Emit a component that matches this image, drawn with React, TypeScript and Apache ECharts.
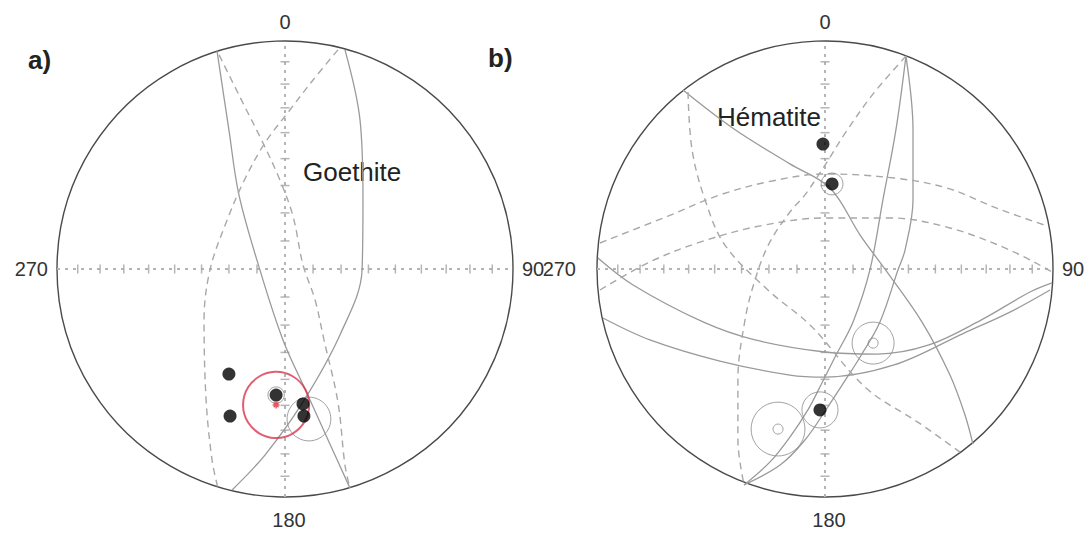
import React, { useEffect, useRef } from "react";
import * as echarts from "echarts";

// ---------- layout constants ----------
const R_PX = 228;
const CENTERS = [
  [285, 269],
  [825, 269],
];

// ---------- axis / tick data ----------
const ANGLE_LABELS = [0, 90, 180, 270];
const TICKS = [0.123, 0.246, 0.366, 0.484, 0.598, 0.707, 0.811, 0.909];

// ---------- a) Goethite (unit-circle coords: x = east, y = north) ----------
const goeSolidA = [
  [-0.298, 0.956], [-0.246, 0.61], [-0.202, 0.325], [-0.11, -0.004],
  [-0.009, -0.311], [0.096, -0.544], [0.189, -0.75], [0.285, -0.961],
];
const goeSolidB = [
  [-0.232, -0.969], [-0.088, -0.816], [0.079, -0.583], [0.241, -0.289],
  [0.338, -0.004], [0.342, 0.303], [0.329, 0.654], [0.263, 0.961],
];
const goeDashC = [
  [-0.289, 0.939], [-0.18, 0.719], [-0.105, 0.57], [-0.026, 0.399],
  [0.035, 0.232], [0.079, 0.018], [0.132, -0.136], [0.171, -0.311],
  [0.232, -0.583], [0.263, -0.86], [0.285, -0.961],
];
const goeDashD = [
  [0.232, 0.961], [0.123, 0.829], [0.018, 0.693], [-0.088, 0.553],
  [-0.18, 0.386], [-0.259, 0.202], [-0.329, -0.004], [-0.355, -0.224],
  [-0.346, -0.575], [-0.32, -0.838], [-0.294, -0.961],
];
const goeDots = [
  [-0.246, -0.461], [-0.241, -0.645], [-0.039, -0.553], [0.079, -0.592], [0.083, -0.645],
];
// [x, y, radius]
const goeGrayCircles = [
  [-0.039, -0.553, 0.036],
  [0.105, -0.658, 0.096],
];
const goeMean = [[-0.039, -0.596, 0.145]];

// ---------- b) Hématite ----------
const hemSolidE = [
  [0.355, 0.934], [0.386, 0.61], [0.386, 0.303], [0.351, 0.083], [0.32, -0.004],
  [0.241, -0.232], [0.154, -0.386], [0.075, -0.509], [0.004, -0.618],
  [-0.088, -0.75], [-0.197, -0.86], [-0.355, -0.947],
];
const hemSolidF = [
  [0.355, 0.934], [0.311, 0.61], [0.254, 0.303], [0.197, -0.004], [0.123, -0.232],
  [0.044, -0.386], [-0.018, -0.509], [-0.075, -0.618], [-0.154, -0.737],
  [-0.241, -0.846], [-0.355, -0.947],
];
const hemSolidG = [
  [-0.623, 0.785], [-0.399, 0.614], [-0.154, 0.461], [0.022, 0.355], [0.154, 0.149],
  [0.272, -0.013], [0.425, -0.232], [0.548, -0.465], [0.614, -0.64], [0.649, -0.768],
];
const hemSolidH1 = [
  [-0.996, 0.048], [-0.842, -0.07], [-0.535, -0.232], [-0.307, -0.311], [0, -0.364],
  [0.228, -0.373], [0.456, -0.333], [0.684, -0.224], [0.899, -0.101], [0.996, -0.061],
];
const hemSolidH2 = [
  [-0.974, -0.215], [-0.768, -0.311], [-0.461, -0.404], [-0.154, -0.465], [0, -0.474],
  [0.303, -0.421], [0.61, -0.281], [0.811, -0.189], [0.987, -0.092],
];
const hemDash1 = [
  [0.355, 0.934], [0.211, 0.768], [0.092, 0.601], [0, 0.456], [-0.088, 0.325],
  [-0.154, 0.25], [-0.246, 0.11], [-0.307, -0.048], [-0.351, -0.224],
  [-0.382, -0.487], [-0.382, -0.75], [-0.355, -0.947],
];
const hemDash2 = [
  [-0.987, 0.114], [-0.689, 0.232], [-0.461, 0.325], [-0.232, 0.386], [0, 0.417],
  [0.303, 0.399], [0.535, 0.355], [0.763, 0.263], [0.974, 0.189],
];
const hemDash3 = [
  [-0.987, -0.092], [-0.768, 0.031], [-0.548, 0.118], [-0.285, 0.189], [0, 0.224],
  [0.285, 0.224], [0.548, 0.18], [0.811, 0.083], [0.996, -0.013],
];
const hemDash4 = [
  [-0.601, 0.776], [-0.583, 0.522], [-0.526, 0.303], [-0.439, 0.105], [-0.246, -0.096],
  [-0.061, -0.25], [0.18, -0.522], [0.412, -0.675], [0.592, -0.803],
];
const hemDots = [[-0.009, 0.548], [0.031, 0.373], [-0.022, -0.618]];
const hemGrayCircles = [
  [0.031, 0.373, 0.048],
  [-0.022, -0.618, 0.079],
  [0.211, -0.325, 0.022],
  [0.211, -0.325, 0.092],
  [-0.206, -0.702, 0.022],
  [-0.206, -0.702, 0.118],
];

// ---------- styles ----------
const SOLID = "#9a9a9a";
const DASH = "#a8a8a8";
const FONT = "'Liberation Sans', Arial, sans-serif";

function curve(idx: number, data: number[][], dashed: boolean) {
  return {
    type: "line",
    xAxisIndex: idx,
    yAxisIndex: idx,
    data,
    smooth: 0.35,
    symbol: "none",
    silent: true,
    z: 2,
    lineStyle: {
      color: dashed ? DASH : SOLID,
      width: dashed ? 1.4 : 1.3,
      type: dashed ? [7, 5] : "solid",
    },
  };
}

function crosshair(idx: number) {
  const base = {
    type: "line",
    xAxisIndex: idx,
    yAxisIndex: idx,
    symbol: "none",
    silent: true,
    z: 1,
    lineStyle: { color: "#b4b4b4", width: 2, type: [3, 5] },
  };
  const hTicks: number[][] = [];
  const vTicks: number[][] = [];
  TICKS.forEach((t) => {
    hTicks.push([t, 0], [-t, 0]);
    vTicks.push([0, t], [0, -t]);
  });
  return [
    { ...base, data: [[-1, 0], [1, 0]] },
    { ...base, data: [[0, -1], [0, 1]] },
    {
      type: "scatter", xAxisIndex: idx, yAxisIndex: idx, silent: true, z: 1,
      symbol: "rect", symbolSize: [1.5, 9], data: hTicks,
      itemStyle: { color: "#a4a4a4" },
    },
    {
      type: "scatter", xAxisIndex: idx, yAxisIndex: idx, silent: true, z: 1,
      symbol: "rect", symbolSize: [9, 1.5], data: vTicks,
      itemStyle: { color: "#a4a4a4" },
    },
  ];
}

function rings(idx: number, data: number[][], color: string, width: number) {
  return {
    type: "scatter",
    xAxisIndex: idx,
    yAxisIndex: idx,
    silent: true,
    z: 4,
    symbol: "circle",
    data: data.map((d) => ({ value: [d[0], d[1]], symbolSize: d[2] * 2 * R_PX })),
    itemStyle: { color: "rgba(0,0,0,0)", borderColor: color, borderWidth: width },
  };
}

function dots(idx: number, data: number[][]) {
  return {
    type: "scatter",
    xAxisIndex: idx,
    yAxisIndex: idx,
    silent: true,
    z: 5,
    symbol: "circle",
    symbolSize: 13,
    data,
    itemStyle: { color: "#000" },
  };
}

export default function App() {
  const ref = useRef<HTMLDivElement>(null);
  useEffect(() => {
    if (!ref.current) return;
    const chart = echarts.init(ref.current, undefined, { renderer: "svg" });
    const grids = CENTERS.map((c) => ({
      left: c[0] - R_PX,
      top: c[1] - R_PX,
      width: 2 * R_PX,
      height: 2 * R_PX,
    }));
    const polar = CENTERS.map((c) => ({ center: [c[0], c[1]], radius: R_PX }));
    const angleAxis = CENTERS.map((_, i) => ({
      polarIndex: i,
      type: "value",
      min: 0,
      max: 360,
      interval: 90,
      startAngle: 90,
      clockwise: true,
      axisLine: { lineStyle: { color: "#4a4a4a", width: 1.4 } },
      axisTick: { show: false },
      splitLine: { show: false },
      axisLabel: {
        margin: 9,
        fontSize: 20,
        fontFamily: FONT,
        color: "#333",
        formatter: (v: number) => {
          if (!ANGLE_LABELS.includes(v) || v === 360) return "";
          if (v === 180) return `{s|${v}}`;
          if (v === 270 && i === 1) return `{w|${v}}`;
          return String(v);
        },
        rich: {
          s: { fontSize: 20, fontFamily: FONT, color: "#333", padding: [4, 0, 0, 8] },
          w: { fontSize: 20, fontFamily: FONT, color: "#333", padding: [0, 12, 0, 0] },
        },
      },
    }));
    const radiusAxis = CENTERS.map((_, i) => ({
      polarIndex: i,
      min: 0,
      max: 1,
      show: false,
    }));
    const xAxis = CENTERS.map((_, i) => ({ gridIndex: i, type: "value", min: -1, max: 1, show: false }));
    const yAxis = CENTERS.map((_, i) => ({ gridIndex: i, type: "value", min: -1, max: 1, show: false }));

    const series: any[] = [
      ...crosshair(0),
      curve(0, goeSolidA, false),
      curve(0, goeSolidB, false),
      curve(0, goeDashC, true),
      curve(0, goeDashD, true),
      rings(0, goeGrayCircles, "#8a8a8a", 1),
      rings(0, goeMean, "#d9364f", 2),
      dots(0, goeDots),
      {
        type: "scatter", xAxisIndex: 0, yAxisIndex: 0, silent: true, z: 6,
        symbol: "path://M0,-1L0,1M-1,0L1,0M-0.7,-0.7L0.7,0.7M-0.7,0.7L0.7,-0.7",
        symbolSize: 7,
        data: goeMean.map((d) => [d[0], d[1]]),
        itemStyle: { color: "none", borderColor: "#e0303c", borderWidth: 1.5 },
      },
      ...crosshair(1),
      curve(1, hemSolidE, false),
      curve(1, hemSolidF, false),
      curve(1, hemSolidG, false),
      curve(1, hemSolidH1, false),
      curve(1, hemSolidH2, false),
      curve(1, hemDash1, true),
      curve(1, hemDash2, true),
      curve(1, hemDash3, true),
      curve(1, hemDash4, true),
      rings(1, hemGrayCircles, "#8a8a8a", 1),
      dots(1, hemDots),
    ];

    chart.setOption({
      animation: false,
      backgroundColor: "#fff",
      grid: grids,
      polar,
      angleAxis,
      radiusAxis,
      xAxis,
      yAxis,
      series,
      graphic: [
        { type: "text", left: 28, top: 47, style: { text: "a)", font: `bold 26px ${FONT}`, fill: "#222" } },
        { type: "text", left: 488, top: 45, style: { text: "b)", font: `bold 26px ${FONT}`, fill: "#222" } },
        {
          type: "text", x: 303, y: 172,
          style: { text: "Goethite", font: `26px ${FONT}`, fill: "#222", verticalAlign: "middle" },
        },
        {
          type: "text", x: 717, y: 117,
          style: { text: "Hématite", font: `26px ${FONT}`, fill: "#222", verticalAlign: "middle" },
        },
      ],
    });
    return () => chart.dispose();
  }, []);
  return (
    <div
      ref={ref}
      style={{ position: "fixed", left: 0, top: 0, width: 1092, height: 539, background: "#fff" }}
    />
  );
}
